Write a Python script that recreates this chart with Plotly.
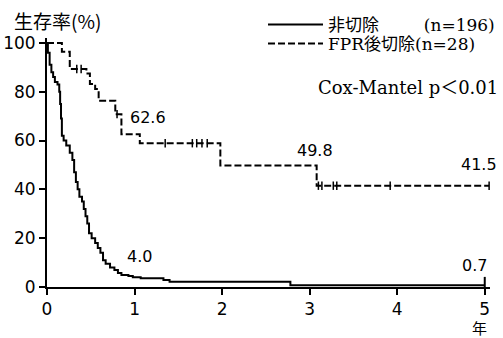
import plotly.graph_objects as go

# ---- data ----
years_nonres = [0, 0.01, 0.03, 0.05, 0.07, 0.09, 0.12, 0.14, 0.15, 0.16, 0.17, 0.19, 0.22, 0.26, 0.29,
                0.31, 0.33, 0.35, 0.37, 0.40, 0.42, 0.44, 0.46, 0.48, 0.51, 0.55, 0.58, 0.61, 0.64,
                0.67, 0.72, 0.77, 0.81, 0.85, 0.93, 0.98, 1.07, 1.33, 1.40, 2.78, 5.0]
surv_nonres = [100, 96, 91, 88, 86, 84, 83, 80, 75, 69, 62, 60, 58, 55, 52,
               47, 43, 40, 37, 35, 32, 29, 26, 22, 20, 18, 16, 14, 11,
               9.5, 8, 7, 5.7, 4.9, 4.5, 4.0, 3.6, 2.9, 2.2, 0.7, 0.7]

years_fpr = [0, 0.17, 0.26, 0.45, 0.49, 0.55, 0.59, 0.78, 0.85, 1.06, 1.98, 3.08, 5.05]
surv_fpr = [100, 96.4, 89.3, 87.5, 83.2, 81.1, 76.3, 70.8, 62.6, 58.9, 49.8, 41.5, 41.5]

cens_fpr_years = [0.34, 0.39, 0.80, 1.35, 1.66, 1.71, 1.77, 1.83, 3.10, 3.14, 3.27, 3.31, 3.92, 5.05]
cens_fpr_surv = [89.3, 89.3, 70.8, 58.9, 58.9, 58.9, 58.9, 58.9, 41.5, 41.5, 41.5, 41.5, 41.5, 41.5]
cens_nonres_years = [5.0]
cens_nonres_surv = [0.7]

label_text = ["62.6", "49.8", "41.5", "4.0", "0.7"]
label_x = [1.15, 3.06, 4.94, 1.06, 4.88]
label_y = [69.5, 56.0, 50.2, 12.7, 8.8]

x_ticks = [0, 1, 2, 3, 4, 5]
y_ticks = [0, 20, 40, 60, 80, 100]

name_nonres = "非切除\u3000\u3000\u00a0\u00a0(n=196)"
name_fpr = "FPR後切除(n=28)"

NUM_FONT = "DejaVu Sans"
SERIF_JP = "DejaVu Serif, Noto Sans CJK JP"

fig = go.Figure()
fig.add_trace(go.Scatter(x=years_nonres, y=surv_nonres, mode="lines", line_shape="hv",
                         line=dict(color="black", width=2), name=name_nonres, legend="legend"))
fig.add_trace(go.Scatter(x=years_fpr, y=surv_fpr, mode="lines", line_shape="hv",
                         line=dict(color="black", width=2, dash="7px,3px"), name=name_fpr,
                         legend="legend2"))
fig.add_trace(go.Scatter(x=cens_fpr_years, y=cens_fpr_surv, mode="markers", showlegend=False,
                         marker=dict(symbol="line-ns", size=6, line=dict(color="black", width=1.5))))
fig.add_trace(go.Scatter(x=cens_nonres_years, y=cens_nonres_surv, mode="markers", showlegend=False,
                         marker=dict(symbol="line-ns", size=12, line=dict(color="black", width=2))))

for t, xv, yv in zip(label_text, label_x, label_y):
    fig.add_annotation(x=xv, y=yv, xref="x", yref="y", text=t, showarrow=False,
                       font=dict(family=NUM_FONT, size=16, color="black"))

fig.add_annotation(x=-0.079, y=1.072, xref="paper", yref="paper", text="生存率(%)", showarrow=False,
                   xanchor="left", yanchor="middle",
                   font=dict(family="Noto Sans CJK JP", size=19, color="black"))
fig.add_annotation(x=0.977, y=-0.162, xref="paper", yref="paper", text="年", showarrow=False,
                   xanchor="center", yanchor="middle",
                   font=dict(family="Noto Sans CJK JP", size=15, color="black"))
fig.add_annotation(x=1.0226, y=0.803, xref="paper", yref="paper", text="Cox-Mantel p＜0.01",
                   showarrow=False, xanchor="right", yanchor="middle",
                   font=dict(family=SERIF_JP, size=18, color="black"))

leg_common = dict(xanchor="left", yanchor="middle", bgcolor="rgba(0,0,0,0)",
                  font=dict(family=SERIF_JP, size=17, color="black"), itemwidth=55,
                  borderwidth=0)

fig.update_layout(
    width=503, height=338,
    margin=dict(l=47, r=13, t=38, b=51, autoexpand=False),
    paper_bgcolor="white", plot_bgcolor="white",
    showlegend=True,
    legend=dict(x=0.4876, y=1.052, **leg_common),
    legend2=dict(x=0.4876, y=0.976, **leg_common),
    xaxis=dict(range=[0, 5.06], tickvals=x_ticks, ticks="outside", ticklen=6, tickwidth=1.5,
               tickcolor="black", showline=True, linewidth=2, linecolor="black",
               showgrid=False, zeroline=False, automargin=False,
               tickfont=dict(family=NUM_FONT, size=17, color="black")),
    yaxis=dict(range=[0, 102], tickvals=y_ticks, ticks="outside", ticklen=6, tickwidth=1.5,
               tickcolor="black", showline=True, linewidth=2, linecolor="black",
               showgrid=False, zeroline=False, automargin=False,
               tickfont=dict(family=NUM_FONT, size=17, color="black")),
)

fig.write_html("out.html")
